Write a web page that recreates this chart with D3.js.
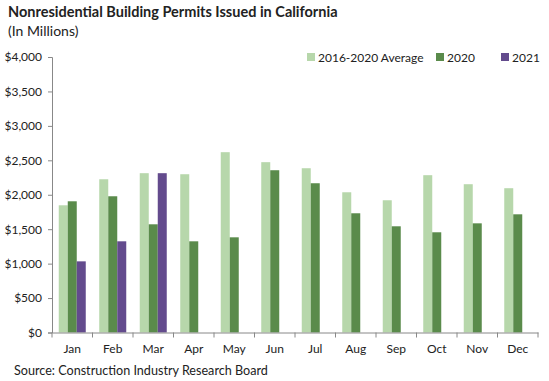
<!DOCTYPE html>
<html>
<head>
<meta charset="utf-8">
<script src="https://cdn.jsdelivr.net/npm/d3@7"></script>
<style>
  body { margin: 0; background: #fff; }
  text { font-family: Lato, "Open Sans", sans-serif; fill: #222; }
</style>
</head>
<body>
<div id="chart"></div>
<script>
var months = ["Jan","Feb","Mar","Apr","May","Jun","Jul","Aug","Sep","Oct","Nov","Dec"];
var seriesNames = ["2016-2020 Average", "2020", "2021"];
var avgValues = [1847, 2225, 2313, 2298, 2618, 2473, 2385, 2036, 1920, 2284, 2153, 2095];
var values2020 = [1905, 1978, 1571, 1324, 1382, 2356, 2167, 1731, 1542, 1455, 1585, 1716];
var values2021 = [1033, 1324, 2313, null, null, null, null, null, null, null, null, null];
var yTicks = [0, 500, 1000, 1500, 2000, 2500, 3000, 3500, 4000];
var colors = ["#b7d7ab", "#5a8b4b", "#634b8d"];

var width = 549, height = 381;
var svg = d3.select("#chart").append("svg").attr("width", width).attr("height", height);

var x = d3.scaleBand().domain(months).range([52, 538]);
var sub = d3.scaleBand().domain(seriesNames).range([0, 27]);
var y = d3.scaleLinear().domain([0, 4000]).range([332.5, 57]);

var allSeries = [avgValues, values2020, values2021];

// BARS
allSeries.forEach(function(vals, i) {
  svg.append("g").selectAll("rect")
    .data(months.map(function(m, j) { return {m: m, v: vals[j]}; }).filter(function(d) { return d.v != null; }))
    .enter().append("rect")
    .attr("x", function(d) { return x(d.m) + (x.bandwidth() - 27) / 2 + sub(seriesNames[i]); })
    .attr("y", function(d) { return y(d.v); })
    .attr("width", sub.bandwidth())
    .attr("height", function(d) { return y(0) - y(d.v); })
    .style("fill", colors[i]);
});

// Y AXIS
var yAxis = svg.append("g").attr("transform", "translate(52,0)")
  .call(d3.axisLeft(y).tickValues(yTicks).tickSize(4).tickPadding(6)
    .tickFormat(function(d) { return "$" + d3.format(",")(d); }));
yAxis.select(".domain").attr("stroke", "#888");
yAxis.selectAll(".tick line").attr("stroke", "#888");
yAxis.selectAll(".tick text").style("font-size", "12px").style("font-family", "Lato, sans-serif").attr("fill", "#333");

// X AXIS
var xAxis = svg.append("g").attr("transform", "translate(0," + y(0) + ")")
  .call(d3.axisBottom(x).tickSize(0).tickPadding(12));
xAxis.select(".domain").attr("stroke", "#888");
xAxis.selectAll(".tick text").style("font-size", "12px").style("font-family", "Lato, sans-serif").attr("fill", "#333");
// boundary ticks
svg.append("g").selectAll("line")
  .data(months.concat(["end"]))
  .enter().append("line")
  .attr("x1", function(d, i) { return i < 12 ? x(d) : x.range()[1]; })
  .attr("x2", function(d, i) { return i < 12 ? x(d) : x.range()[1]; })
  .attr("y1", y(0)).attr("y2", y(0) + 5)
  .attr("stroke", "#888");

// TITLES
svg.append("text").attr("x", 8).attr("y", 17).style("font-size", "14.5px").style("font-weight", "bold").text("Nonresidential Building Permits Issued in California");
svg.append("text").attr("x", 8).attr("y", 36).style("font-size", "14px").text("(In Millions)");
svg.append("text").attr("x", 14).attr("y", 375).style("font-size", "12.6px").text("Source: Construction Industry Research Board");

// LEGEND
var legendX = [307, 436, 501];
seriesNames.forEach(function(name, i) {
  svg.append("rect").attr("x", legendX[i]).attr("y", 53).attr("width", 8).attr("height", 8).style("fill", colors[i]);
  svg.append("text").attr("x", legendX[i] + 11).attr("y", 61.5).style("font-size", "12px").attr("fill", "#333").text(name);
});
</script>
</body>
</html>
